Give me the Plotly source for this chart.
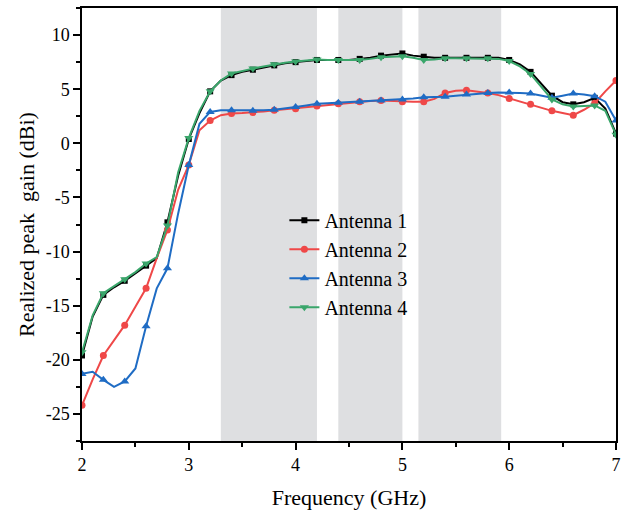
import plotly.graph_objects as go

# frequency samples (GHz), 0.1 GHz step
freq = [2.0, 2.1, 2.2, 2.3, 2.4, 2.5, 2.6, 2.7, 2.8, 2.9,
        3.0, 3.1, 3.2, 3.3, 3.4, 3.5, 3.6, 3.7, 3.8, 3.9,
        4.0, 4.1, 4.2, 4.3, 4.4, 4.5, 4.6, 4.7, 4.8, 4.9,
        5.0, 5.1, 5.2, 5.3, 5.4, 5.5, 5.6, 5.7, 5.8, 5.9,
        6.0, 6.1, 6.2, 6.3, 6.4, 6.5, 6.6, 6.7, 6.8, 6.9, 7.0]

ant1 = [-19.6, -16.0, -14.0, -13.3, -12.7, -12.0, -11.3, -10.6, -7.3, -3.0,
        0.4, 2.8, 4.8, 5.8, 6.3, 6.6, 6.8, 7.0, 7.2, 7.4,
        7.5, 7.6, 7.7, 7.7, 7.7, 7.7, 7.8, 7.9, 8.1, 8.2,
        8.3, 8.1, 8.0, 7.9, 7.9, 7.9, 7.9, 7.9, 7.9, 7.9,
        7.7, 7.3, 6.6, 5.5, 4.4, 3.8, 3.6, 3.8, 4.2, 3.2, 0.9]

ant2 = [-24.2, -21.8, -19.6, -18.2, -16.8, -15.1, -13.4, -10.6, -8.0, -4.3,
        -2.0, 1.2, 2.1, 2.6, 2.75, 2.8, 2.85, 2.95, 3.05, 3.15,
        3.2, 3.35, 3.45, 3.55, 3.65, 3.75, 3.85, 3.9, 3.95, 3.9,
        3.85, 3.85, 3.85, 4.1, 4.65, 4.85, 4.9, 4.8, 4.65, 4.45,
        4.15, 3.9, 3.6, 3.3, 3.0, 2.8, 2.6, 3.1, 3.7, 4.8, 5.8]

ant3 = [-21.3, -21.1, -21.85, -22.5, -22.0, -20.8, -16.9, -13.4, -11.55, -6.5,
        -2.0, 1.8, 2.9, 3.05, 3.05, 3.05, 3.0, 3.05, 3.1, 3.2,
        3.35, 3.5, 3.65, 3.7, 3.75, 3.8, 3.85, 3.9, 3.95, 4.0,
        4.05, 4.15, 4.25, 4.25, 4.3, 4.4, 4.5, 4.6, 4.65, 4.7,
        4.7, 4.65, 4.6, 4.4, 4.2, 4.4, 4.6, 4.5, 4.35, 3.85, 2.1]

ant4 = [-19.3, -15.9, -13.85, -13.2, -12.55, -11.9, -11.1, -10.5, -7.6, -2.7,
        0.5, 3.0, 4.8, 5.8, 6.45, 6.7, 6.9, 7.1, 7.3, 7.45,
        7.55, 7.65, 7.75, 7.7, 7.7, 7.7, 7.7, 7.8, 7.95, 8.0,
        8.05, 7.9, 7.7, 7.75, 7.85, 7.85, 7.85, 7.85, 7.85, 7.8,
        7.6, 7.1, 6.4, 5.2, 4.05, 3.6, 3.4, 3.45, 3.5, 3.0, 0.8]

# shaded operating bands (GHz)
band_start = [3.3, 4.4, 5.15]
band_end = [4.2, 5.0, 5.925]

x_ticks = [2, 3, 4, 5, 6, 7]
y_ticks = [-25, -20, -15, -10, -5, 0, 5, 10]
y_ticklabels = ['-25', '-20', '-15', '-10', '-5', '0', '5', '10']

names = ['Antenna 1', 'Antenna 2', 'Antenna 3', 'Antenna 4']
series = [ant1, ant2, ant3, ant4]
colors = ['#000000', '#EF4848', '#1F6CC4', '#3AA66B']
symbols = ['square', 'circle', 'triangle-up', 'triangle-down']
sizes = [6, 7, 8, 8]

FONT = 'Liberation Serif, Times New Roman, serif'

fig = go.Figure()

for name, ys, c, sym, sz in zip(names, series, colors, symbols, sizes):
    # full-resolution curve
    fig.add_trace(go.Scatter(x=freq, y=ys, mode='lines', showlegend=False,
                             line=dict(color=c, width=2), hoverinfo='skip'))
    # markers on every second sample
    fig.add_trace(go.Scatter(x=freq[::2], y=ys[::2], mode='markers',
                             showlegend=False,
                             marker=dict(symbol=sym, size=sz, color=c)))
    # legend entry only
    fig.add_trace(go.Scatter(x=[None], y=[None], mode='lines+markers',
                             name=name, line=dict(color=c, width=2),
                             marker=dict(symbol=sym, size=sz, color=c)))

for x0, x1 in zip(band_start, band_end):
    fig.add_shape(type='rect', xref='x', yref='paper', x0=x0, x1=x1,
                  y0=0, y1=1, fillcolor='#DEDFE1', line_width=0, layer='below')

fig.update_layout(
    width=625, height=512,
    margin=dict(l=82, r=9, t=8, b=71),
    paper_bgcolor='white', plot_bgcolor='white',
    font=dict(family=FONT, size=18, color='black'),
    legend=dict(x=0.379, y=0.555, xanchor='left', yanchor='top',
                bgcolor='rgba(0,0,0,0)', font=dict(size=20)),
)
fig.update_xaxes(range=[2, 7], tickvals=x_ticks, automargin=False,
                 showgrid=False, zeroline=False,
                 showline=True, linecolor='black', linewidth=1.5, mirror=True,
                 ticks='outside', ticklen=7, tickwidth=1.5, tickcolor='black',
                 minor=dict(dtick=0.5, ticks='outside', ticklen=4,
                            tickwidth=1.5, tickcolor='black'),
                 title=dict(text='Frequency (GHz)', font=dict(size=22),
                            standoff=15))
fig.update_yaxes(range=[-27.5, 12.5], tickvals=y_ticks, ticktext=y_ticklabels,
                 automargin=False,
                 showgrid=False, zeroline=False,
                 showline=True, linecolor='black', linewidth=1.5, mirror=True,
                 ticks='outside', ticklen=7, tickwidth=1.5, tickcolor='black',
                 minor=dict(dtick=2.5, ticks='outside', ticklen=4,
                            tickwidth=1.5, tickcolor='black'),
                 title=dict(text='Realized peak  gain (dBi)', font=dict(size=22),
                            standoff=5))

# drop the page's default body margin so the figure sits at the window origin
fig.write_html('out.html', config={'displayModeBar': False},
               post_script="document.body.style.margin='0';")
